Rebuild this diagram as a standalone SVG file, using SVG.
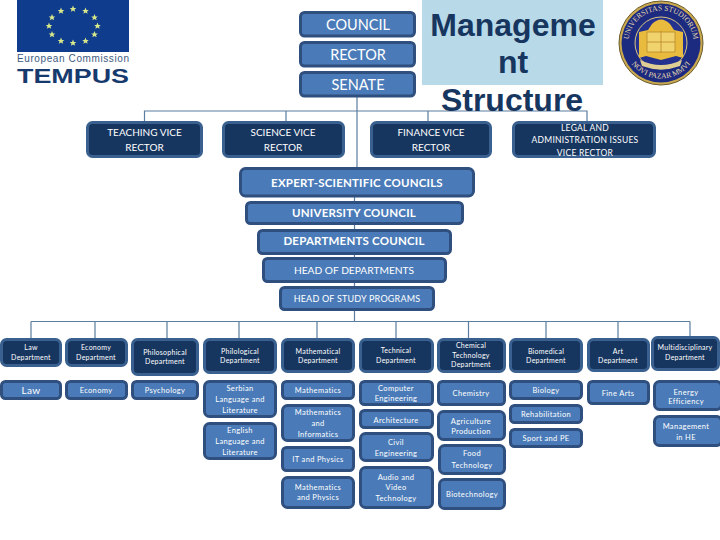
<svg xmlns="http://www.w3.org/2000/svg" width="720" height="540" viewBox="0 0 720 540">
<style>
text{font-family:"Lato","Open Sans","Liberation Sans",sans-serif;fill:#fff;text-anchor:middle}
.l rect{fill:#4a7bb8;stroke:#2f4f7f;stroke-width:3}
.d rect{fill:#17365f;stroke:#39608f;stroke-width:3}
.d.s text{font-size:7px;letter-spacing:.25px}
.l.s text{font-size:7.5px;letter-spacing:.35px}
.m text{font-size:10px}
.t text{font-size:14.5px}
.b text{font-size:11.5px;font-weight:700;letter-spacing:.2px}
.title text{font-family:"Liberation Sans",Arial,sans-serif;font-size:32px;font-weight:700;fill:#17365f}
#connectors path{fill:none;stroke:#5b7d9f;stroke-width:1.2}
</style>
<defs>
<polygon id="star" points="0,-3.4 1,-1.1 3.3,-1 1.5,.5 2.1,2.8 0,1.5 -2.1,2.8 -1.500,.5 -3.3,-1 -1,-1.1" fill="#d9e88a"/>
</defs>
<g id="connectors">
<path d="M144.500 121V111H587V121M286 111V121M428 111V121M357 97V167M354.500 197V322M31 321.500H690M31 321.500V338M95 321.500V338M167 321.500V338M239 321.500V338M317 321.500V338M396 321.500V338M468.500 321.500V338M546 321.500V338M618 321.500V338M690 321.500V336"/>
</g>
<g id="logo-tempus">
<rect x="17" y="0" width="112" height="52" fill="#0f3c8c"/>
<use href="#star" x="73" y="9"/><use href="#star" x="85.500" y="11"/><use href="#star" x="94.500" y="17.500"/><use href="#star" x="97.500" y="26"/><use href="#star" x="94.500" y="34.500"/><use href="#star" x="85.500" y="41"/><use href="#star" x="73" y="43"/><use href="#star" x="61" y="41"/><use href="#star" x="52" y="34.500"/><use href="#star" x="49" y="26"/><use href="#star" x="52" y="17.500"/><use href="#star" x="61" y="11"/>
<text x="73" y="62" textLength="112" style="font-family:'Liberation Sans',sans-serif;font-size:10px;fill:#3c5a80">European Commission</text>
<text x="73" y="83" textLength="112" lengthAdjust="spacingAndGlyphs" style="font-family:'Liberation Sans',sans-serif;font-size:20.500px;font-weight:700;fill:#173a6e">TEMPUS</text>
</g>
<g id="logo-seal">
<circle cx="661" cy="43" r="42" fill="#c9a94f" stroke="#6b5a2a" stroke-width="1"/>
<circle cx="661" cy="43" r="39.500" fill="#1c2a80"/>
<circle cx="661" cy="43" r="26" fill="#24318f" stroke="#d8c680" stroke-width="1"/>
<path d="M639 32L648 30 652 24Q661 15 670 24L674 30 683 32V58L676 56 661 60 646 56 639 58Z" fill="#e8bb3e"/>
<path d="M647 32H675V52H647Z" fill="#f0d36c" stroke="#b8892a" stroke-width=".8"/>
<path d="M661 31V53M647 42H675" stroke="#b8892a" stroke-width=".8"/>
<path d="M640 60Q661 70 682 60L680 66Q661 73 642 66Z" fill="#e0cf94"/>
<path id="arcTop" d="M628.500 43A32.500 32.500 0 0 1 693.500 43" fill="none"/>
<path id="arcBot" d="M625 50A37 37 0 0 0 697 50" fill="none"/>
<text style="font-family:'Liberation Serif',serif;font-size:7.500px;fill:#e6dcae"><textPath href="#arcTop" startOffset="50%">UNIVERSITAS STUDIORUM</textPath></text>
<text style="font-family:'Liberation Serif',serif;font-size:7.500px;fill:#e6dcae"><textPath href="#arcBot" startOffset="50%">NOVI PAZAR MMVI</textPath></text>
</g>
<g id="title" class="title">
<rect x="422" y="0" width="181" height="85" fill="#b7d9e8"/>
<text x="513" y="36">Manageme</text>
<text x="513" y="73">nt</text>
<text x="512" y="111">Structure</text>
</g>
<g id="council" class="l t"><rect x="300.500" y="12.500" width="114" height="23.500" rx="4"/><text x="358" y="30">COUNCIL</text></g>
<g id="rector" class="l t"><rect x="300.500" y="42.500" width="114" height="23.500" rx="4"/><text x="358" y="60">RECTOR</text></g>
<g id="senate" class="l t"><rect x="300.500" y="72.500" width="114" height="23.500" rx="4"/><text x="358" y="90">SENATE</text></g>
<g id="teaching" class="d m"><rect x="87.500" y="122.500" width="114" height="34" rx="5"/><text x="144.500" y="136">TEACHING VICE</text><text x="144.500" y="151">RECTOR</text></g>
<g id="science" class="d m"><rect x="223.500" y="122.500" width="120" height="34" rx="5"/><text x="283" y="136">SCIENCE VICE</text><text x="283" y="151">RECTOR</text></g>
<g id="finance" class="d m"><rect x="371.500" y="122.500" width="119" height="34" rx="5"/><text x="431" y="136">FINANCE VICE</text><text x="431" y="151">RECTOR</text></g>
<g id="legal" class="d"><rect x="513.500" y="122.500" width="141" height="34" rx="5"/><g style="font-size:8.500px;letter-spacing:.25px"><text x="585" y="131">LEGAL AND</text><text x="585" y="143">ADMINISTRATION ISSUES</text><text x="585" y="156">VICE RECTOR</text></g></g>
<g id="expert" class="l b"><rect x="240.500" y="168.500" width="233" height="27.500" rx="5"/><text x="357" y="187">EXPERT-SCIENTIFIC  COUNCILS</text></g>
<g id="university" class="l b"><rect x="246.500" y="202.500" width="216" height="21" rx="4"/><text x="354" y="217">UNIVERSITY COUNCIL</text></g>
<g id="departments" class="l b"><rect x="258.500" y="230.500" width="192" height="23" rx="4"/><text x="354" y="245">DEPARTMENTS COUNCIL</text></g>
<g id="head-departments" class="l" style="font-size:10.200px"><rect x="263.500" y="258.500" width="182" height="23" rx="4"/><text x="354" y="274">HEAD OF DEPARTMENTS</text></g>
<g id="head-programs" class="l" style="font-size:9px"><rect x="280.500" y="287.500" width="153" height="22" rx="4"/><text x="357" y="302" style="letter-spacing:.2px">HEAD OF STUDY PROGRAMS</text></g>
<g class="d s">
<g id="d-law"><rect x="1.500" y="339.500" width="59" height="26" rx="5"/><text x="31" y="350">Law</text><text x="31" y="360">Department</text></g>
<g id="d-economy"><rect x="66.500" y="339.500" width="60" height="26" rx="5"/><text x="96" y="350">Economy</text><text x="96" y="360">Department</text></g>
<g id="d-philosophical"><rect x="132.500" y="339.500" width="65" height="35" rx="5"/><text x="165" y="355">Philosophical</text><text x="165" y="364">Department</text></g>
<g id="d-philological"><rect x="204.500" y="339.500" width="71" height="33" rx="5"/><text x="240" y="354">Philological</text><text x="240" y="363">Department</text></g>
<g id="d-math"><rect x="282.500" y="339.500" width="71" height="32" rx="5"/><text x="318" y="354">Mathematical</text><text x="318" y="363">Department</text></g>
<g id="d-technical"><rect x="360.500" y="339.500" width="72" height="32" rx="5"/><text x="396" y="353">Technical</text><text x="396" y="363">Department</text></g>
<g id="d-chemical"><rect x="438.500" y="339.500" width="66" height="32" rx="5"/><text x="471" y="348">Chemical</text><text x="471" y="358">Technology</text><text x="471" y="367">Department</text></g>
<g id="d-biomedical"><rect x="510.500" y="339.500" width="71" height="32" rx="5"/><text x="546" y="354">Biomedical</text><text x="546" y="363">Department</text></g>
<g id="d-art"><rect x="588.500" y="339.500" width="60" height="31" rx="5"/><text x="618" y="354">Art</text><text x="618" y="363">Department</text></g>
<g id="d-multi"><rect x="652.500" y="337.500" width="66" height="32" rx="5"/><text x="685" y="350">Multidisciplinary</text><text x="685" y="360">Department</text></g>
</g>
<g class="l s">
<g id="p-law"><rect x="1.500" y="381.500" width="59" height="17" rx="4"/><text x="31" y="394" style="font-size:10px">Law</text></g>
<g id="p-economy"><rect x="66.500" y="381.500" width="60" height="17" rx="4"/><text x="96" y="393">Economy</text></g>
<g id="p-psychology"><rect x="132.500" y="381.500" width="65" height="17" rx="4"/><text x="165" y="393">Psychology</text></g>
<g id="p-serbian"><rect x="204.500" y="381.500" width="71" height="35" rx="5"/><text x="240" y="391">Serbian</text><text x="240" y="402">Language and</text><text x="240" y="413">Literature</text></g>
<g id="p-english"><rect x="204.500" y="423.500" width="71" height="35" rx="5"/><text x="240" y="433">English</text><text x="240" y="444">Language and</text><text x="240" y="455">Literature</text></g>
<g id="p-mathematics"><rect x="282.500" y="381.500" width="71" height="17" rx="4"/><text x="318" y="393">Mathematics</text></g>
<g id="p-mathinfo"><rect x="282.500" y="405.500" width="71" height="35" rx="5"/><text x="318" y="415">Mathematics</text><text x="318" y="426">and</text><text x="318" y="437">Informatics</text></g>
<g id="p-it"><rect x="282.500" y="447.500" width="71" height="23" rx="4"/><text x="318" y="462">IT and Physics</text></g>
<g id="p-mathphys"><rect x="282.500" y="477.500" width="71" height="30" rx="5"/><text x="318" y="490">Mathematics</text><text x="318" y="500">and Physics</text></g>
<g id="p-computer"><rect x="360.500" y="381.500" width="72" height="23" rx="4"/><text x="396" y="391">Computer</text><text x="396" y="401">Engineering</text></g>
<g id="p-architecture"><rect x="360.500" y="410.500" width="72" height="17" rx="4"/><text x="396" y="423">Architecture</text></g>
<g id="p-civil"><rect x="360.500" y="433.500" width="72" height="27" rx="5"/><text x="396" y="445">Civil</text><text x="396" y="456">Engineering</text></g>
<g id="p-audio"><rect x="360.500" y="467.500" width="72" height="40" rx="5"/><text x="396" y="480">Audio and</text><text x="396" y="490">Video</text><text x="396" y="501">Technology</text></g>
<g id="p-chemistry"><rect x="438.500" y="381.500" width="66" height="23" rx="4"/><text x="471" y="396">Chemistry</text></g>
<g id="p-agri"><rect x="438.500" y="411.500" width="66" height="28" rx="5"/><text x="471" y="424">Agriculture</text><text x="471" y="434">Production</text></g>
<g id="p-food"><rect x="439.500" y="445.500" width="65" height="28" rx="5"/><text x="472" y="456">Food</text><text x="472" y="468">Technology</text></g>
<g id="p-biotech"><rect x="439.500" y="479.500" width="65" height="29" rx="5"/><text x="472" y="497">Biotechnology</text></g>
<g id="p-biology"><rect x="510.500" y="381.500" width="71" height="17" rx="4"/><text x="546" y="393">Biology</text></g>
<g id="p-rehab"><rect x="510.500" y="405.500" width="71" height="17" rx="4"/><text x="546" y="417">Rehabilitation</text></g>
<g id="p-sport"><rect x="510.500" y="429.500" width="71" height="17" rx="4"/><text x="546" y="441">Sport and PE</text></g>
<g id="p-finearts"><rect x="588.500" y="381.500" width="60" height="22" rx="4"/><text x="618" y="396">Fine Arts</text></g>
<g id="p-energy"><rect x="654.500" y="381.500" width="67" height="28" rx="5"/><text x="686" y="395">Energy</text><text x="686" y="404">Efficiency</text></g>
<g id="p-management"><rect x="654.500" y="416.500" width="67" height="29" rx="5"/><text x="686" y="429">Management</text><text x="686" y="440">in HE</text></g>
</g>
</svg>
